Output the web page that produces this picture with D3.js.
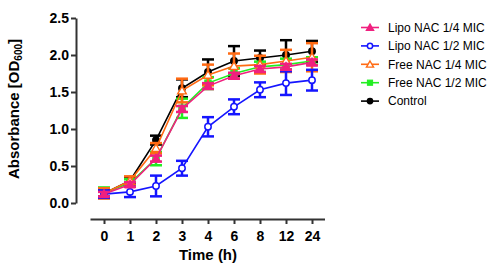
<!DOCTYPE html>
<html lang="en">
<head>
<meta charset="utf-8">
<title>Growth curves</title>
<script src="https://cdn.jsdelivr.net/npm/d3@7"></script>
<style>
  body { margin: 0; background: #fff; }
  text { font-family: "Liberation Sans", Arial, sans-serif; }
</style>
</head>
<body>
<svg width="500" height="269"></svg>
<script>
const times = ['0', '1', '2', '3', '4', '6', '8', '12', '24'];
const yTicks = [0, 0.5, 1, 1.5, 2, 2.5];

const seriesNames = ['Lipo NAC 1/4 MIC', 'Lipo NAC 1/2 MIC', 'Free NAC 1/4 MIC', 'Free NAC 1/2 MIC', 'Control'];

const lipoQuarter = [0.12, 0.25, 0.60, 1.27, 1.58, 1.72, 1.81, 1.84, 1.90];
const lipoQuarterErr = [0.03, 0.03, 0.04, 0.04, 0.04, 0.04, 0.04, 0.04, 0.04];
const lipoHalf = [0.12, 0.15, 0.23, 0.47, 1.03, 1.30, 1.53, 1.62, 1.66];
const lipoHalfErr = [0.05, 0.07, 0.14, 0.10, 0.13, 0.10, 0.10, 0.16, 0.14];
const freeQuarter = [0.13, 0.30, 0.74, 1.52, 1.73, 1.85, 1.87, 1.92, 1.97];
const freeQuarterErr = [0.07, 0.06, 0.07, 0.16, 0.14, 0.17, 0.12, 0.15, 0.19];
const freeHalf = [0.14, 0.27, 0.60, 1.28, 1.62, 1.75, 1.84, 1.87, 1.92];
const freeHalfErr = [0.07, 0.05, 0.09, 0.13, 0.08, 0.07, 0.07, 0.08, 0.05];
const control = [0.13, 0.30, 0.85, 1.55, 1.77, 1.92, 1.96, 2.00, 2.05];
const controlErr = [0.04, 0.05, 0.06, 0.12, 0.17, 0.20, 0.10, 0.20, 0.14];

const series = [
  { name: seriesNames[4], values: control, err: controlErr, color: '#000000', shape: 'circle', fill: true },
  { name: seriesNames[3], values: freeHalf, err: freeHalfErr, color: '#22ee22', shape: 'square', fill: true },
  { name: seriesNames[2], values: freeQuarter, err: freeQuarterErr, color: '#ff6a13', shape: 'triangle', fill: false },
  { name: seriesNames[1], values: lipoHalf, err: lipoHalfErr, color: '#1515ff', shape: 'circle', fill: false },
  { name: seriesNames[0], values: lipoQuarter, err: lipoQuarterErr, color: '#f0207f', shape: 'triangle', fill: true }
];
const legendOrder = [4, 3, 2, 1, 0];

const svg = d3.select('svg');
const axisColor = '#333';

const x = d3.scalePoint().domain(times).range([104, 312]);
const y = d3.scaleLinear().domain([0, 2.5]).range([203, 18]);

// y axis
const yAxisG = svg.append('g')
  .attr('transform', 'translate(76,0)')
  .call(d3.axisLeft(y).tickValues(yTicks).tickFormat(d3.format('.1f')).tickSize(5).tickSizeOuter(0));
// x axis
const xAxisG = svg.append('g')
  .attr('transform', 'translate(0,219)')
  .call(d3.axisBottom(x).tickSize(5).tickSizeOuter(0));
xAxisG.select('.domain').attr('d', 'M90.5,0.5H325');

[yAxisG, xAxisG].forEach(g => {
  g.selectAll('path, line').attr('stroke', axisColor).attr('stroke-width', 2);
  g.selectAll('text').attr('fill', '#000').attr('font-size', 14).attr('font-weight', 'bold')
    .attr('font-family', '"Liberation Sans", Arial, sans-serif');
});
yAxisG.selectAll('text').attr('x', -7);
xAxisG.selectAll('text').attr('y', 12);

svg.append('text')
  .attr('x', 208).attr('y', 260)
  .attr('text-anchor', 'middle')
  .attr('font-size', 15).attr('font-weight', 'bold')
  .text('Time (h)');

const yl = svg.append('text')
  .attr('transform', 'translate(19,109) rotate(-90)')
  .attr('text-anchor', 'middle')
  .attr('font-size', 15).attr('font-weight', 'bold');
yl.append('tspan').text('Absorbance [OD');
yl.append('tspan').attr('font-size', 10).attr('dy', 3).text('600');
yl.append('tspan').attr('dy', -3).text(']');

function marker(g, s, cx, cy, r) {
  const fill = s.fill ? s.color : '#fff';
  if (s.shape === 'circle') {
    g.append('circle').attr('cx', cx).attr('cy', cy).attr('r', r)
      .attr('fill', fill).attr('stroke', s.color).attr('stroke-width', 1.5);
  } else if (s.shape === 'square') {
    g.append('rect').attr('x', cx - r).attr('y', cy - r).attr('width', 2 * r).attr('height', 2 * r)
      .attr('fill', fill).attr('stroke', s.color).attr('stroke-width', 1);
  } else {
    const sym = d3.symbol().type(d3.symbolTriangle).size(r * r * 3.2);
    g.append('path').attr('d', sym()).attr('transform', `translate(${cx},${cy + 0.8})`)
      .attr('fill', fill).attr('stroke', s.color).attr('stroke-width', 1.4);
  }
}

const line = d3.line().x((d, i) => x(times[i])).y(d => y(d));

series.forEach(s => {
  const g = svg.append('g');
  g.append('path').datum(s.values).attr('d', line)
    .attr('fill', 'none').attr('stroke', s.color).attr('stroke-width', 1.6);
  s.values.forEach((v, i) => {
    const cx = x(times[i]);
    const e = s.err[i];
    const top = y(v + e), bot = y(v - e);
    g.append('line').attr('x1', cx).attr('x2', cx).attr('y1', top).attr('y2', bot)
      .attr('stroke', s.color).attr('stroke-width', 2.5);
    [top, bot].forEach(yy => g.append('line')
      .attr('x1', cx - 6).attr('x2', cx + 6).attr('y1', yy).attr('y2', yy)
      .attr('stroke', s.color).attr('stroke-width', 2.5));
    marker(g, s, cx, y(v), 3.2);
  });
});

// legend
const leg = svg.append('g');
legendOrder.forEach((k, i) => {
  const s = series[k];
  const yy = 27.5 + i * 18.4;
  leg.append('line').attr('x1', 361).attr('x2', 379).attr('y1', yy).attr('y2', yy)
    .attr('stroke', s.color).attr('stroke-width', 1.6);
  marker(leg, s, 370, yy, 2.6);
  leg.append('text').attr('x', 388).attr('y', yy + 4.3)
    .attr('font-size', 12).attr('fill', '#000').text(s.name);
});
</script>
</body>
</html>
